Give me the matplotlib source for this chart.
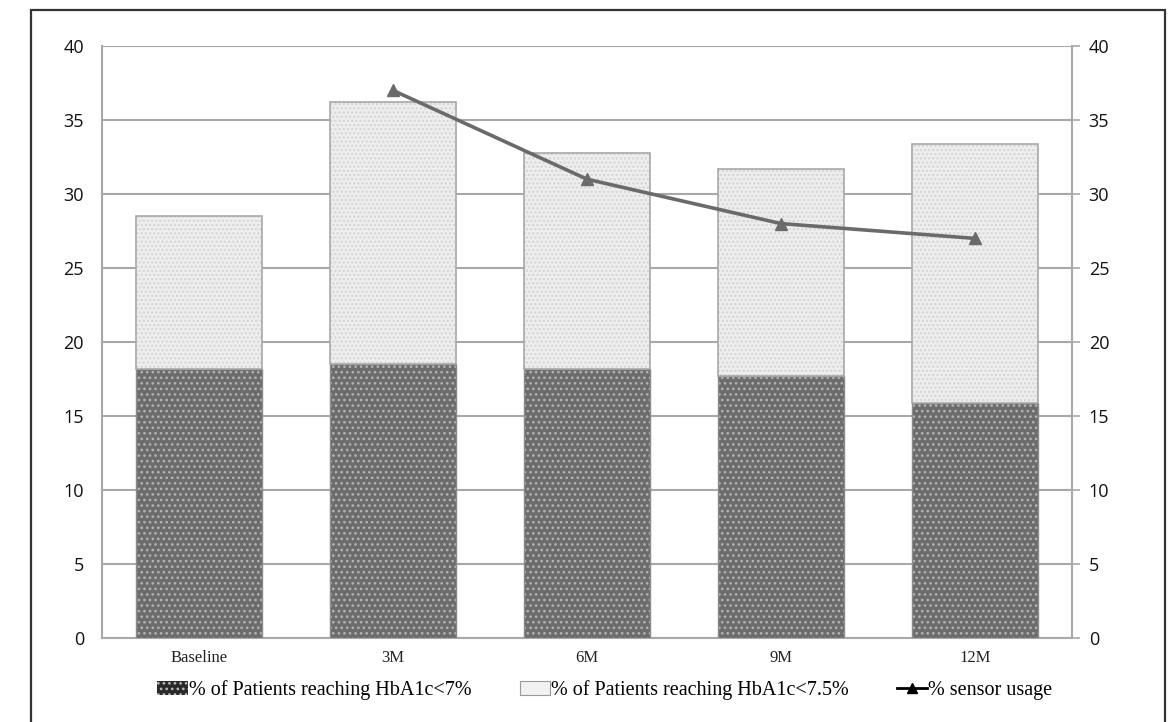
import matplotlib.pyplot as plt
from matplotlib.patches import Rectangle, Patch
from matplotlib.lines import Line2D
import numpy as np

# visits and outcomes (%)
visits = ['Baseline', '3M', '6M', '9M', '12M']
hba1c_7 = [18.2, 18.5, 18.2, 17.7, 15.9]
hba1c_75 = [28.5, 36.2, 32.8, 31.7, 33.4]
sensor_visits = ['3M', '6M', '9M', '12M']
sensor_usage = [37, 31, 28, 27]

serif = 'Liberation Serif'
sans = 'Open Sans'

fig = plt.figure(figsize=(11.7, 7.22), dpi=100)
ax = fig.add_axes([102 / 1170, 1 - 638 / 722, 970 / 1170, 592 / 722])
ax2 = ax.twinx()

x = np.arange(len(visits))
upper = np.array(hba1c_75) - np.array(hba1c_7)

plt.rcParams['hatch.linewidth'] = 1.1
ax.bar(x, hba1c_7, width=0.65, color='#6c6c6c', edgecolor='#b4b4b4',
       hatch='...', linewidth=0, zorder=3)
ax.bar(x, hba1c_7, width=0.65, fill=False, edgecolor='#8a8a8a',
       linewidth=1.0, zorder=3)
ax.bar(x, upper, bottom=hba1c_7, width=0.65, color='#eeeeee',
       edgecolor='#d4d4d4', hatch='....', linewidth=0, zorder=3)
ax.bar(x, upper, bottom=hba1c_7, width=0.65, fill=False,
       edgecolor='#a8a8a8', linewidth=1.2, zorder=3)

ax.set_xlim(-0.5, len(visits) - 0.5)
ax.set_ylim(0, 40)
ax.set_yticks(range(0, 41, 5))
ax.yaxis.grid(True, color='#a8a8a8', linewidth=1.5, zorder=0)
ax.set_axisbelow(True)
ax.tick_params(axis='y', length=0, pad=13, labelsize=13)
ax.tick_params(axis='x', length=0, pad=9, labelsize=12)
ax.set_xticks(x)
ax.set_xticklabels(visits, family=serif, color='#222222')
for lbl in ax.get_yticklabels():
    lbl.set_family(sans)
    lbl.set_color('#111111')

ax.spines['top'].set_visible(False)
ax2.spines['top'].set_visible(False)
ax.spines['left'].set_color('#a8a8a8')
ax.spines['left'].set_linewidth(1.5)
ax.spines['bottom'].set_color('#a8a8a8')
ax.spines['bottom'].set_linewidth(1.5)
ax.spines['right'].set_visible(False)
ax2.spines['left'].set_visible(False)
ax2.spines['bottom'].set_visible(False)
ax2.spines['right'].set_color('#a8a8a8')
ax2.spines['right'].set_linewidth(1.5)

sx = [visits.index(v) for v in sensor_visits]
ax2.plot(sx, sensor_usage, color='#6a6a6a', linewidth=2.6, marker='^',
         markersize=8, zorder=5)
ax2.set_ylim(0, 40)
ax2.set_yticks(range(0, 41, 5))
ax2.tick_params(axis='y', length=6, width=1.2, color='#a8a8a8', pad=6,
                labelsize=13)
for lbl in ax2.get_yticklabels():
    lbl.set_family(sans)
    lbl.set_color('#111111')

handles = [
    Patch(facecolor='#2a2a2a', edgecolor='#bcbcbc', hatch='...', linewidth=0),
    Patch(facecolor='#f2f2f2', edgecolor='#9a9a9a', linewidth=0.8),
    Line2D([0], [0], color='black', linewidth=2, marker='^', markersize=7),
]
labels = ['% of Patients reaching HbA1c<7%',
          '% of Patients reaching HbA1c<7.5%',
          '% sensor usage']
fig.legend(handles, labels, loc='center', bbox_to_anchor=(0.517, 1 - 690 / 722),
           ncol=3, frameon=False, prop={'family': serif, 'size': 14.5},
           handlelength=1.5, handletextpad=0.05, columnspacing=2.4)

# outer frame around the whole chart
fig.patches.append(Rectangle((31 / 1170, -0.05), (1165 - 31) / 1170,
                             1.05 - 10 / 722, transform=fig.transFigure,
                             fill=False, edgecolor='#333333', linewidth=1.6,
                             clip_on=False))

fig.savefig('out.png', dpi=100)
